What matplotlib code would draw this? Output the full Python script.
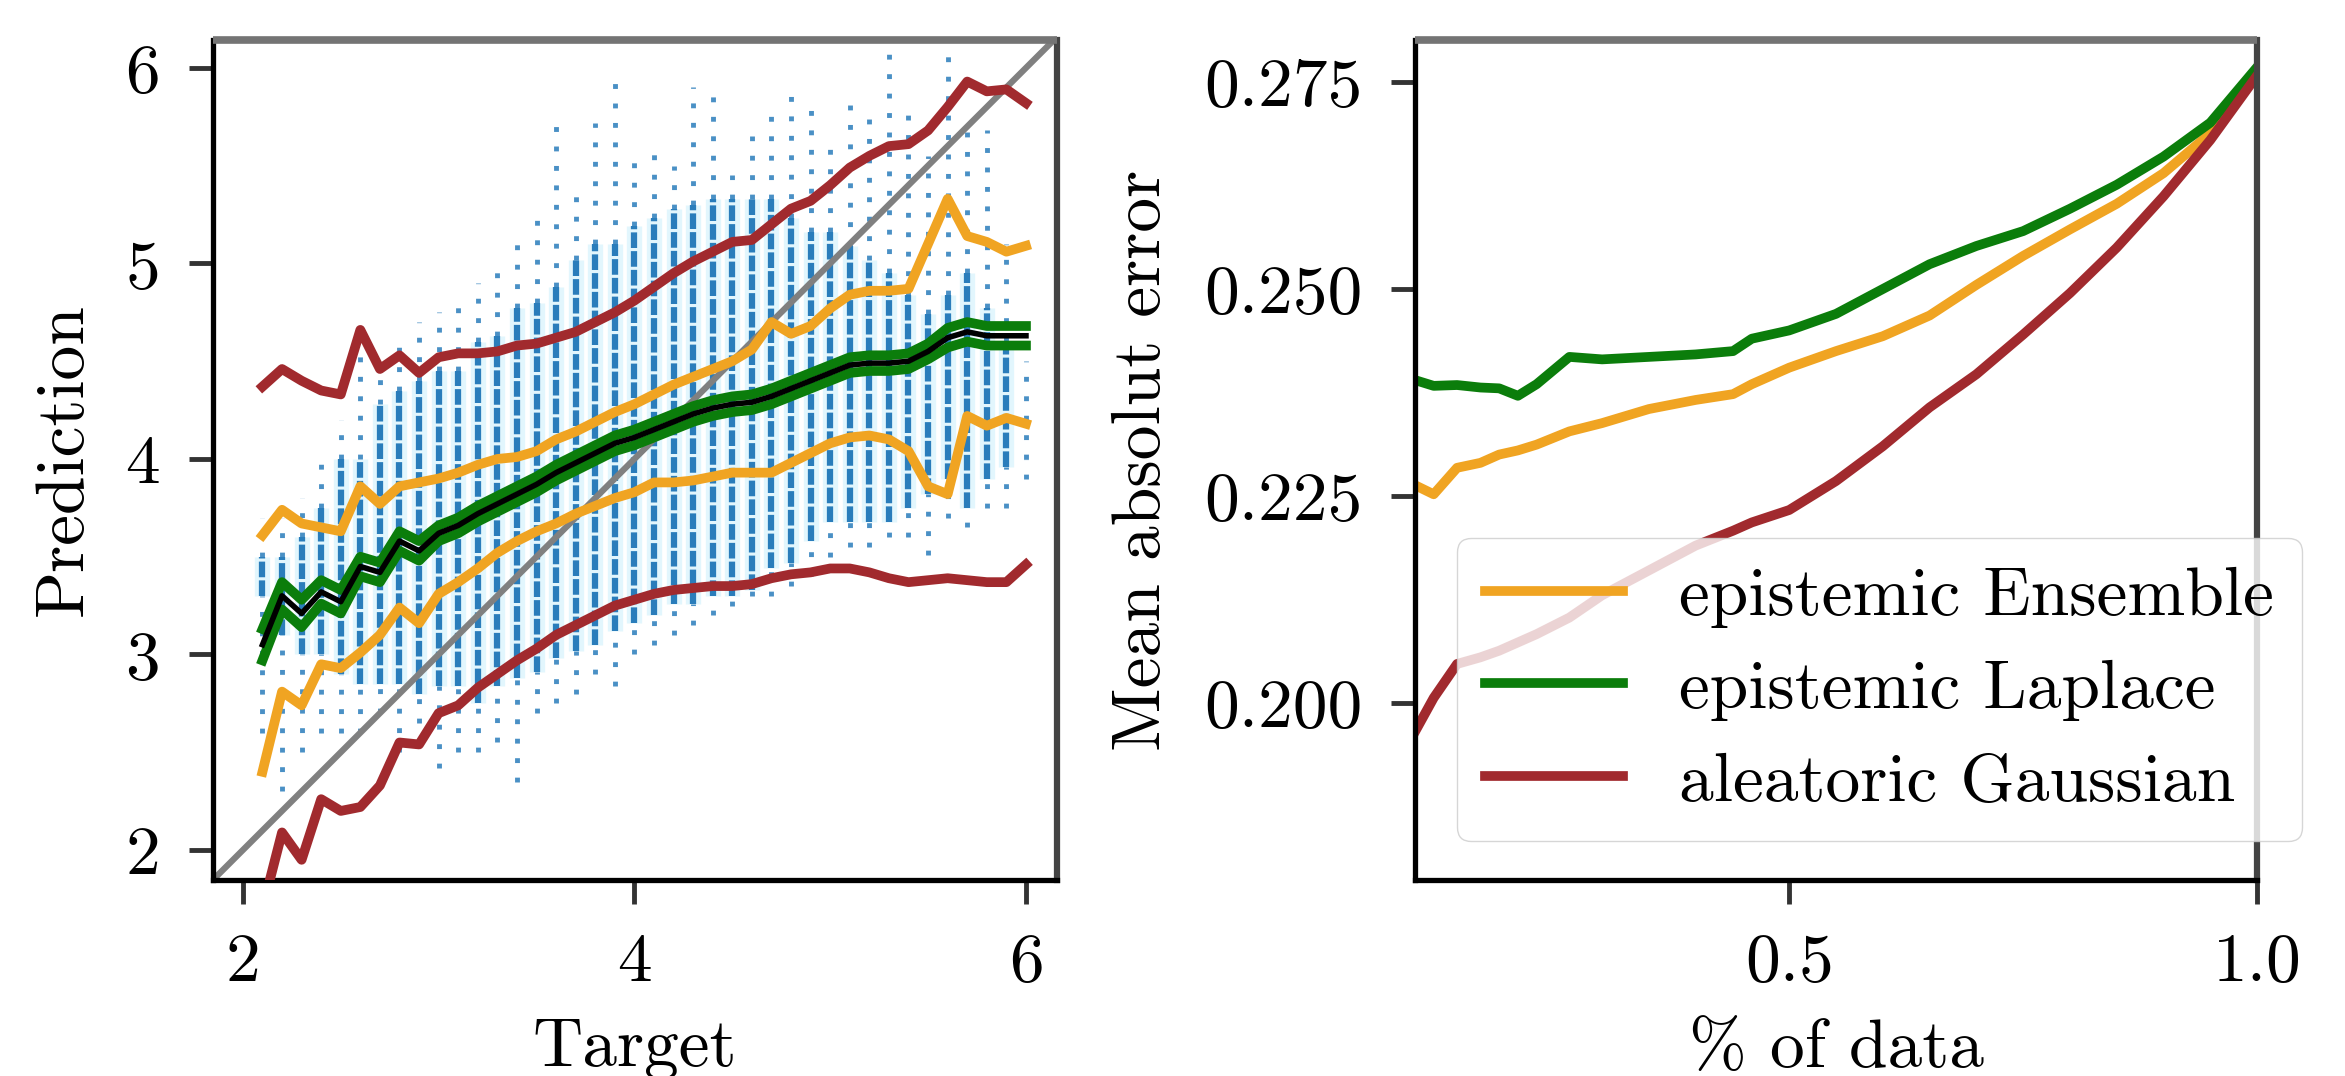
import numpy as np
import matplotlib
matplotlib.use("Agg")
import matplotlib.pyplot as plt

plt.rcParams['font.family'] = ['cmr10', 'DejaVu Serif']
plt.rcParams['mathtext.fontset'] = 'cm'
plt.rcParams['axes.formatter.use_mathtext'] = True
plt.rcParams['font.size'] = 50

# ---- left panel: binned predictions vs target ----
bin_x = [2.1, 2.2, 2.3, 2.4, 2.5, 2.6, 2.7, 2.8, 2.9, 3.0,
         3.1, 3.2, 3.3, 3.4, 3.5, 3.6, 3.7, 3.8, 3.9, 4.0,
         4.1, 4.2, 4.3, 4.4, 4.5, 4.6, 4.7, 4.8, 4.9, 5.0,
         5.1, 5.2, 5.3, 5.4, 5.5, 5.6, 5.7, 5.8, 5.9, 6.0]
mean_pred = [3.05, 3.30, 3.21, 3.32, 3.27, 3.45, 3.42, 3.58, 3.53, 3.62,
             3.66, 3.72, 3.77, 3.82, 3.87, 3.93, 3.98, 4.03, 4.08, 4.11,
             4.15, 4.19, 4.23, 4.26, 4.28, 4.29, 4.32, 4.36, 4.40, 4.44,
             4.48, 4.49, 4.49, 4.50, 4.55, 4.62, 4.65, 4.63, 4.63, 4.63]
laplace_std = [0.08, 0.07, 0.07, 0.06, 0.06, 0.05, 0.05, 0.05, 0.05, 0.04,
               0.04, 0.04, 0.04, 0.04, 0.04, 0.04, 0.04, 0.04, 0.04, 0.04,
               0.04, 0.04, 0.04, 0.04, 0.04, 0.04, 0.04, 0.04, 0.04, 0.04,
               0.04, 0.04, 0.04, 0.04, 0.04, 0.05, 0.05, 0.05, 0.05, 0.05]
ens_hi = [3.61, 3.74, 3.67, 3.65, 3.63, 3.86, 3.77, 3.86, 3.88, 3.90,
          3.93, 3.97, 4.00, 4.01, 4.04, 4.10, 4.14, 4.19, 4.24, 4.28,
          4.33, 4.38, 4.42, 4.46, 4.50, 4.56, 4.70, 4.64, 4.68, 4.77,
          4.84, 4.86, 4.86, 4.87, 5.10, 5.33, 5.14, 5.11, 5.06, 5.09]
ens_lo = [2.40, 2.81, 2.74, 2.95, 2.93, 3.01, 3.10, 3.24, 3.16, 3.31,
          3.37, 3.44, 3.52, 3.58, 3.63, 3.67, 3.72, 3.76, 3.80, 3.83,
          3.88, 3.88, 3.89, 3.91, 3.93, 3.93, 3.93, 3.98, 4.03, 4.08,
          4.11, 4.12, 4.10, 4.04, 3.86, 3.82, 4.22, 4.17, 4.21, 4.18]
gauss_hi = [4.37, 4.46, 4.40, 4.35, 4.33, 4.66, 4.46, 4.53, 4.44, 4.52,
            4.54, 4.54, 4.55, 4.58, 4.59, 4.62, 4.65, 4.70, 4.75, 4.81,
            4.88, 4.95, 5.01, 5.06, 5.11, 5.12, 5.20, 5.28, 5.32, 5.40,
            5.49, 5.55, 5.60, 5.61, 5.68, 5.80, 5.93, 5.88, 5.89, 5.82]
gauss_lo = [1.70, 2.09, 1.95, 2.26, 2.20, 2.22, 2.33, 2.55, 2.54, 2.70,
            2.74, 2.83, 2.90, 2.97, 3.03, 3.10, 3.15, 3.20, 3.25, 3.28,
            3.31, 3.33, 3.34, 3.35, 3.35, 3.36, 3.39, 3.41, 3.42, 3.44,
            3.44, 3.42, 3.39, 3.37, 3.38, 3.39, 3.38, 3.37, 3.37, 3.46]

# scatter columns (targets are on a 0.1 grid): dense core and sparse extent
core_lo = [3.30, 3.10, 3.00, 3.00, 2.90, 2.85, 2.85, 2.85, 2.80, 2.84,
           2.84, 2.75, 2.84, 2.88, 2.91, 2.98, 3.02, 3.05, 3.12, 3.16,
           3.20, 3.26, 3.26, 3.30, 3.30, 3.33, 3.44, 3.47, 3.58, 3.68,
           3.68, 3.68, 3.68, 3.75, 3.82, 3.90, 3.75, 3.90, 3.96, 4.00]
core_hi = [3.50, 3.50, 3.60, 3.75, 4.00, 4.00, 4.28, 4.35, 4.40, 4.45,
           4.45, 4.60, 4.63, 4.77, 4.80, 4.88, 5.02, 5.10, 5.10, 5.19,
           5.23, 5.28, 5.30, 5.33, 5.33, 5.33, 5.33, 5.23, 5.16, 5.16,
           5.09, 5.02, 4.95, 4.84, 4.74, 4.84, 4.95, 4.77, 4.60, 4.00]
sparse_lo = [2.60, 2.30, 2.50, 2.60, 2.60, 2.60, 2.70, 2.50, 2.65, 2.42,
             2.50, 2.50, 2.55, 2.35, 2.70, 2.75, 2.80, 2.90, 2.84, 3.00,
             3.05, 3.10, 3.15, 3.20, 3.25, 3.30, 3.30, 3.35, 3.40, 3.50,
             3.55, 3.55, 3.60, 3.60, 3.51, 3.70, 3.65, 3.75, 3.75, 3.90]
sparse_hi = [3.70, 3.70, 3.80, 4.00, 4.20, 4.60, 4.45, 4.60, 4.70, 4.75,
             4.80, 4.90, 5.00, 5.10, 5.23, 5.77, 5.40, 5.72, 5.98, 5.55,
             5.60, 5.50, 5.90, 5.87, 5.45, 5.65, 5.81, 5.86, 5.81, 5.65,
             5.81, 5.75, 6.09, 5.80, 5.55, 6.07, 5.72, 5.68, 5.10, 4.50]

# ---- right panel: MAE when keeping the most certain fraction ----
frac = [0.10, 0.12, 0.145, 0.17, 0.19, 0.21, 0.23, 0.265, 0.30, 0.35, 0.40, 0.44,
        0.46, 0.50, 0.55, 0.60, 0.65, 0.70, 0.75, 0.80, 0.85, 0.90, 0.95, 1.00]
mae_ensemble = [0.2263, 0.2252, 0.2284, 0.2290, 0.2300, 0.2305, 0.2312, 0.2328,
                0.2338, 0.2355, 0.2366, 0.2373, 0.2385, 0.2405, 0.2425, 0.2443,
                0.2468, 0.2505, 0.2540, 0.2572, 0.2603, 0.2640, 0.2688, 0.2766]
mae_laplace = [0.2390, 0.2383, 0.2384, 0.2381, 0.2380, 0.2371, 0.2385, 0.2418,
               0.2415, 0.2418, 0.2421, 0.2425, 0.2440, 0.2450, 0.2470, 0.2500,
               0.2530, 0.2552, 0.2570, 0.2597, 0.2626, 0.2660, 0.2701, 0.2768]
mae_gaussian = [0.1965, 0.2006, 0.2047, 0.2055, 0.2063, 0.2073, 0.2083, 0.2103,
                0.2130, 0.2160, 0.2190, 0.2208, 0.2218, 0.2233, 0.2268, 0.2310,
                0.2357, 0.2397, 0.2445, 0.2495, 0.2550, 0.2612, 0.2680, 0.2758]

c_ens = '#f0a422'
c_lap = '#0b7d0b'
c_gau = '#a12a2e'
c_pts = '#2a7dbb'

fig = plt.figure(figsize=(23.45, 10.76), dpi=100)
ax1 = fig.add_axes([0.0908, 0.1822, 0.3599, 0.7807])
ax2 = fig.add_axes([0.6034, 0.1822, 0.3591, 0.7807])

# scatter columns
ax1.vlines(bin_x, core_lo, core_hi, color='#e2f6fd', lw=11, zorder=1)
ax1.vlines(bin_x, core_lo, core_hi, color=c_pts, lw=4.5,
           linestyles=[(0, (2.5, 0.5))], zorder=1.2)
ax1.vlines(bin_x, sparse_lo, core_lo, color=c_pts, lw=3.5,
           linestyles=[(0, (1.0, 3.0))], alpha=0.85, zorder=1.1)
ax1.vlines(bin_x, core_hi, sparse_hi, color=c_pts, lw=3.5,
           linestyles=[(0, (1.0, 3.0))], alpha=0.85, zorder=1.1)

lims = [1.847, 6.15]
ax1.plot(lims, lims, color='grey', lw=4.5, zorder=2)

ax1.plot(bin_x, gauss_hi, color=c_gau, lw=7, zorder=3)
ax1.plot(bin_x, gauss_lo, color=c_gau, lw=7, zorder=3)
ax1.plot(bin_x, ens_hi, color=c_ens, lw=7, zorder=3)
ax1.plot(bin_x, ens_lo, color=c_ens, lw=7, zorder=3)
lap_hi = np.array(mean_pred) + np.array(laplace_std)
lap_lo = np.array(mean_pred) - np.array(laplace_std)
ax1.plot(bin_x, lap_hi, color=c_lap, lw=7, zorder=3)
ax1.plot(bin_x, lap_lo, color=c_lap, lw=7, zorder=3)
ax1.plot(bin_x, mean_pred, color='black', lw=4, zorder=4)

ax1.set_xlim(1.847, 6.158)
ax1.set_ylim(1.847, 6.143)
ax1.set_xticks([2, 4, 6])
ax1.set_xticklabels(['2', '4', '6'])
ax1.set_yticks([2, 3, 4, 5, 6])
ax1.set_yticklabels(['2', '3', '4', '5', '6'])
ax1.set_xlabel('Target', labelpad=18)
ax1.set_ylabel('Prediction', labelpad=22)

# right panel
ax2.plot(frac, mae_ensemble, color=c_ens, lw=7, label='epistemic Ensemble')
ax2.plot(frac, mae_laplace, color=c_lap, lw=7, label='epistemic Laplace')
ax2.plot(frac, mae_gaussian, color=c_gau, lw=7, label='aleatoric Gaussian')
ax2.set_xlim(0.1, 1.0)
ax2.set_ylim(0.1786, 0.2801)
ax2.set_xticks([0.5, 1.0])
ax2.set_xticklabels(['0.5', '1.0'])
ax2.set_yticks([0.200, 0.225, 0.250, 0.275])
ax2.set_yticklabels(['0.200', '0.225', '0.250', '0.275'])
ax2.set_xlabel('% of data', labelpad=18)
ax2.set_ylabel('Mean absolut error', labelpad=22)
ax2.legend(loc='lower right', bbox_to_anchor=(1.053, 0.046), borderaxespad=0,
           fontsize=50, labelspacing=0.45, framealpha=0.8)

for ax in (ax1, ax2):
    ax.tick_params(length=17, width=3.5, pad=21, labelsize=50, color='#333333')
    for side in ('left', 'bottom'):
        ax.spines[side].set_linewidth(3.8)
        ax.spines[side].set_color('black')
    ax.spines['top'].set_linewidth(5.5)
    ax.spines['top'].set_color('#747474')
    ax.spines['top'].set_capstyle('butt')
    ax.spines['right'].set_linewidth(4.5)
    ax.spines['right'].set_color('#444444')

fig.savefig('out.png', dpi=100)
